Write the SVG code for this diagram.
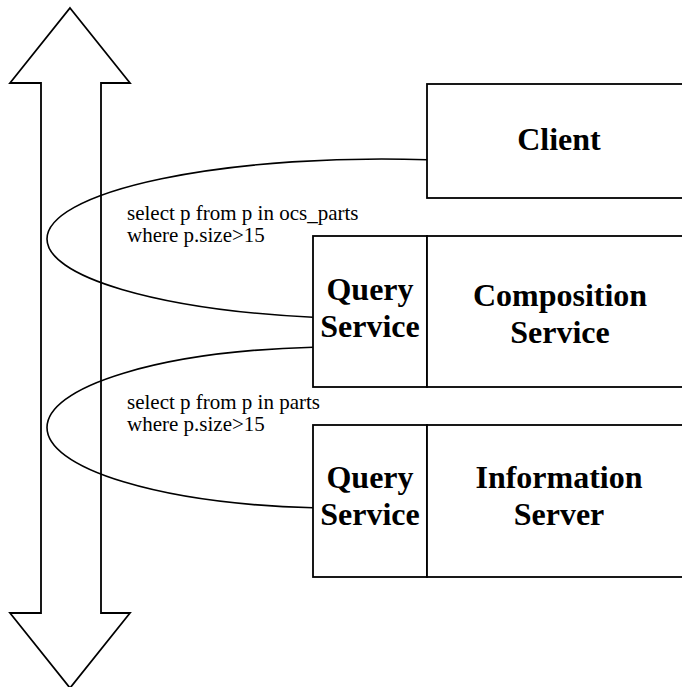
<svg xmlns="http://www.w3.org/2000/svg" width="682" height="687" viewBox="0 0 682 687">
  <style>
    .shape { fill: #fff; stroke: #000; stroke-width: 1.8; }
    .link { fill: none; stroke: #000; stroke-width: 1.6; }
    .label { font-family: "Liberation Serif", "Times New Roman", serif; font-weight: bold; font-size: 32px; text-anchor: middle; fill: #000; }
    .query { font-family: "Liberation Serif", "Times New Roman", serif; font-size: 21px; fill: #000; }
  </style>
  <rect width="682" height="687" fill="#fff"/>

  <!-- double-headed vertical arrow -->
  <g id="bus">
    <polygon class="shape" points="70,8 130,83 101,83 101,613 130,613 70,688 10,613 41,613 41,83 10,83"/>
  </g>

  <!-- query loops -->
  <g id="connectors">
    <path class="link" d="M427,159.7 A335,80 0 0 0 47,239 A335,80 0 0 0 313,317.3"/>
    <path class="link" d="M313,347.3 A292,80.5 0 0 0 47,427.5 A292,80.5 0 0 0 313,507.7"/>
  </g>

  <g id="client">
    <rect class="shape" x="427" y="84" width="264" height="114"/>
    <text class="label" x="559" y="150">Client</text>
  </g>

  <g id="composition-service">
    <rect class="shape" x="313" y="236" width="114" height="151"/>
    <rect class="shape" x="427" y="236" width="264" height="151"/>
    <text class="label" x="370" y="300">Query</text>
    <text class="label" x="370" y="337">Service</text>
    <text class="label" x="560" y="306">Composition</text>
    <text class="label" x="560" y="343">Service</text>
  </g>

  <g id="information-server">
    <rect class="shape" x="313" y="425" width="114" height="152"/>
    <rect class="shape" x="427" y="425" width="264" height="152"/>
    <text class="label" x="370" y="488">Query</text>
    <text class="label" x="370" y="525">Service</text>
    <text class="label" x="559" y="488">Information</text>
    <text class="label" x="559" y="525">Server</text>
  </g>

  <g id="query-texts">
    <text class="query" x="127" y="220">select p from p in ocs_parts</text>
    <text class="query" x="127" y="242">where p.size&gt;15</text>
    <text class="query" x="127" y="409">select p from p in parts</text>
    <text class="query" x="127" y="431">where p.size&gt;15</text>
  </g>
</svg>
